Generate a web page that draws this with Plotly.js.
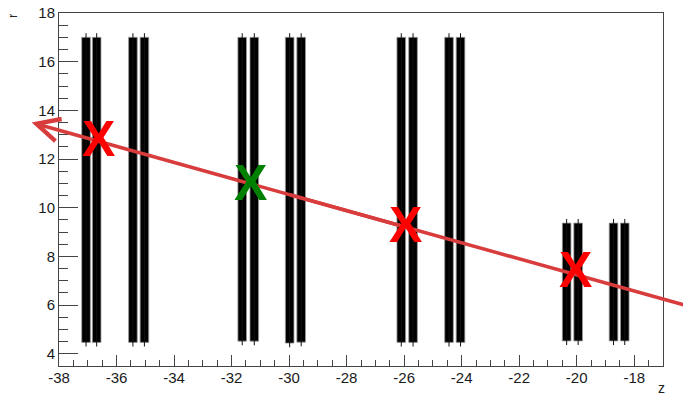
<!DOCTYPE html>
<html><head><meta charset="utf-8">
<script src="https://cdn.plot.ly/plotly-3.0.1.min.js"></script>
<style>html,body{margin:0;padding:0;background:#fff}#c{width:683px;height:395px}</style>
</head><body><div id="c"></div>
<script>
// Detector layers: z position of each strip, its lower and upper r edge
const barZ = [-37.06, -36.69, -35.43, -35.03, -31.63, -31.21, -29.98, -29.58,
              -26.10, -25.69, -24.44, -24.04, -20.35, -19.95, -18.72, -18.33];
const barBottom = [4.47, 4.47, 4.47, 4.47, 4.52, 4.52, 4.44, 4.48,
                   4.47, 4.47, 4.47, 4.47, 4.53, 4.53, 4.53, 4.53];
const barTop = [17.0, 17.0, 17.0, 17.0, 17.0, 17.0, 17.0, 17.0,
                17.0, 17.0, 17.0, 17.0, 9.37, 9.37, 9.37, 9.37];
// Hits (red) and the other hit (green)
const hitZ = [-36.63, -25.95, -20.03];
const hitR = [12.82, 9.30, 7.45];
const missZ = [-31.33];
const missR = [11.01];
// Track points (arrow tip, two inner points, far end)
const trackZ = [-38.95, -30.0, -26.0, -16.2];
const trackR = [13.5, 10.54, 9.22, 5.99];
// Tick labels
const xTickVals = [-38, -36, -34, -32, -30, -28, -26, -24, -22, -20, -18];
const xTickText = ['-38', '-36', '-34', '-32', '-30', '-28', '-26', '-24', '-22', '-20', '-18'];
const yTickVals = [4, 6, 8, 10, 12, 14, 16, 18];
const yTickText = ['4', '6', '8', '10', '12', '14', '16', '18'];

const WHISK = 0.17;
const wx = [], wy = [];
barZ.forEach((z, i) => {
  wx.push(z, z, null);
  wy.push(barBottom[i] - WHISK, barTop[i] + WHISK, null);
});

const traces = [
  {
    type: 'bar', x: barZ, base: barBottom,
    y: barTop.map((t, i) => t - barBottom[i]),
    width: 0.3,
    marker: {color: '#000', line: {color: '#9a9a9a', width: 0.8}},
    hoverinfo: 'skip'
  },
  {
    type: 'scatter', mode: 'lines', x: wx, y: wy,
    line: {color: '#111', width: 1}, hoverinfo: 'skip'
  }
];

const trackColor = '#d83c3c';
const annotations = [
  { // arrow head part: tip to second inner point
    x: trackZ[0], y: trackR[0], xref: 'x', yref: 'y',
    ax: trackZ[2], ay: trackR[2], axref: 'x', ayref: 'y',
    text: '', showarrow: true, arrowhead: 5, arrowsize: 1.25, arrowwidth: 3.6,
    arrowcolor: trackColor, standoff: 0, startstandoff: 0, font: {size: 1}
  },
  { // far part: first inner point to far end (overlaps the first part)
    x: trackZ[3], y: trackR[3], xref: 'x', yref: 'y',
    ax: trackZ[1], ay: trackR[1], axref: 'x', ayref: 'y',
    text: '', showarrow: true, arrowhead: 0, arrowwidth: 3.6,
    arrowcolor: trackColor, standoff: 0, startstandoff: 0, font: {size: 1}
  },
  {
    text: 'r', xref: 'paper', yref: 'paper', x: -0.076, y: 0.992,
    showarrow: false, textangle: -90, xanchor: 'center', yanchor: 'middle',
    font: {family: 'Liberation Sans', size: 13, color: '#222'}
  },
  {
    text: 'z', xref: 'paper', yref: 'paper', x: 0.998, y: -0.062,
    showarrow: false, xanchor: 'center', yanchor: 'middle',
    font: {family: 'Liberation Sans', size: 14, color: '#222'}
  }
];

const hitMark = (z, r, color) => ({
  x: z, y: r, xref: 'x', yref: 'y', text: 'X', showarrow: false,
  xanchor: 'center', yanchor: 'middle', borderpad: 0,
  font: {family: 'Liberation Sans', size: 50, color: color, weight: 700}
});
hitZ.forEach((z, i) => annotations.push(hitMark(z, hitR[i], '#ff0000')));
missZ.forEach((z, i) => annotations.push(hitMark(z, missR[i], '#008000')));

const axisCommon = {
  showline: true, mirror: true, linecolor: '#444', linewidth: 1,
  showgrid: false, zeroline: false, ticks: 'inside', tickcolor: '#444', tickwidth: 1,
  tickmode: 'array', fixedrange: true,
  tickfont: {family: 'Liberation Sans', size: 15, color: '#1a1a1a'}
};

const layout = {
  width: 683, height: 395,
  margin: {l: 59, r: 20, t: 13, b: 29},
  paper_bgcolor: '#fff', plot_bgcolor: '#fff',
  showlegend: false,
  xaxis: Object.assign({}, axisCommon, {
    range: [-38, -17], tickvals: xTickVals, ticktext: xTickText, ticklen: 11,
    ticklabelstandoff: -2,
    minor: {tickmode: 'linear', tick0: -38, dtick: 0.5, ticks: 'inside', ticklen: 6, tickcolor: '#444', tickwidth: 1, showgrid: false}
  }),
  yaxis: Object.assign({}, axisCommon, {
    range: [3.5, 18], tickvals: yTickVals, ticktext: yTickText, ticklen: 19,
    minor: {tickmode: 'linear', tick0: 4, dtick: 0.5, ticks: 'inside', ticklen: 9, tickcolor: '#444', tickwidth: 1, showgrid: false}
  }),
  annotations: annotations,
  bargap: 0
};

Plotly.newPlot('c', traces, layout, {displayModeBar: false, staticPlot: true});
</script>
</body></html>
